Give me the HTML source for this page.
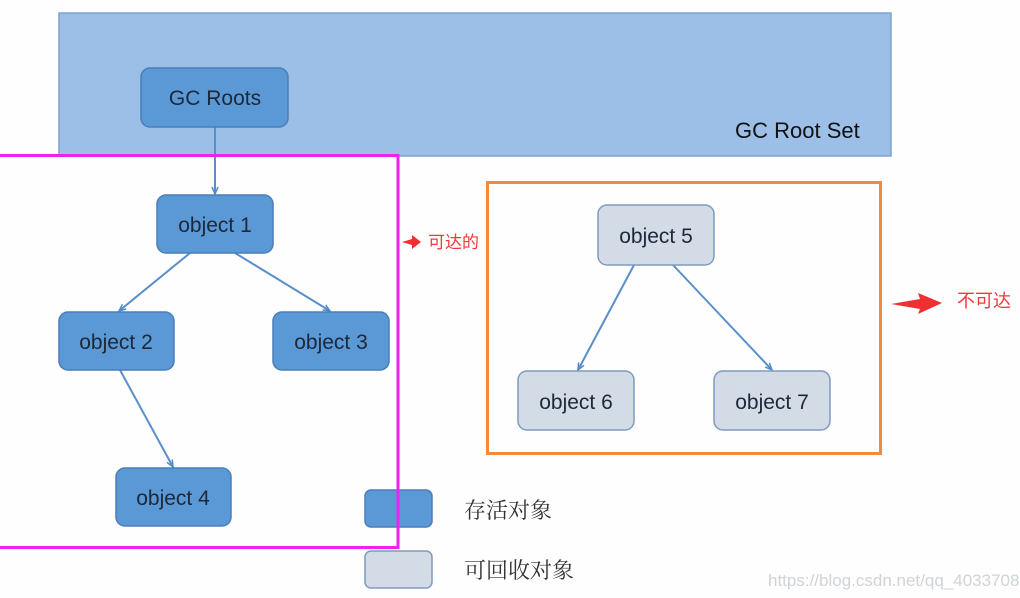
<!DOCTYPE html>
<html><head><meta charset="utf-8"><style>
html,body{margin:0;padding:0;background:#fdfefd;width:1020px;height:598px;overflow:hidden}
svg{display:block}
.t{font-family:"Liberation Sans","DejaVu Sans",sans-serif;font-size:21px;fill:#1d2838}
.cn{font-family:"Liberation Serif","Noto Serif CJK SC",serif;font-size:22px;fill:#333}
.r{font-family:"Liberation Sans","Noto Sans CJK SC",sans-serif;fill:#f03a3a}
</style></head><body>
<svg width="1020" height="598" viewBox="0 0 1020 598" xmlns="http://www.w3.org/2000/svg">
<defs>
<marker id="a" markerWidth="8" markerHeight="8" refX="7" refY="4" orient="auto" markerUnits="userSpaceOnUse">
<path d="M0,1 L7,4 L0,7" fill="none" stroke="#4f8acb" stroke-width="1.5"/></marker>
</defs>
<rect x="59" y="13" width="832" height="143" fill="#9bbfe7" stroke="#7fa3cf" stroke-width="1.5"/>
<text x="735" y="138" class="t" style="font-size:22px;fill:#111">GC Root Set</text>
<g stroke="#5a8fcc" stroke-width="2" fill="none" marker-end="url(#a)">
<line x1="215" y1="127" x2="215" y2="194"/>
<line x1="190" y1="253" x2="119" y2="311"/>
<line x1="235" y1="253" x2="330" y2="311"/>
<line x1="120" y1="370" x2="173" y2="467"/>
<line x1="634" y1="265" x2="578" y2="370"/>
<line x1="673" y1="265" x2="772" y2="370"/>
</g>
<g fill="#5b98d6" stroke="#4a7fb8" stroke-width="1.5">
<rect x="141" y="68" width="147" height="59" rx="9"/>
<rect x="157" y="195" width="116" height="58" rx="9"/>
<rect x="59" y="312" width="115" height="58" rx="9"/>
<rect x="273" y="312" width="116" height="58" rx="9"/>
<rect x="116" y="468" width="115" height="58" rx="9"/>
<rect x="365" y="490" width="67" height="37" rx="6"/>
</g>
<g fill="#d3dbe7" stroke="#7f9bbd" stroke-width="1.5">
<rect x="598" y="205" width="116" height="60" rx="9"/>
<rect x="518" y="371" width="116" height="59" rx="9"/>
<rect x="714" y="371" width="116" height="59" rx="9"/>
<rect x="365" y="551" width="67" height="37" rx="6"/>
</g>
<g class="t" text-anchor="middle">
<text x="215" y="105" class="t">GC Roots</text>
<text x="215" y="232" class="t">object 1</text>
<text x="116" y="349" class="t">object 2</text>
<text x="331" y="349" class="t">object 3</text>
<text x="173" y="505" class="t">object 4</text>
<text x="656" y="243" class="t">object 5</text>
<text x="576" y="409" class="t">object 6</text>
<text x="772" y="409" class="t">object 7</text>
</g>
<rect x="-5" y="155.5" width="403" height="392" fill="none" stroke="#f020f0" stroke-width="3"/>
<rect x="487.5" y="182.5" width="393" height="271" fill="none" stroke="#f5893a" stroke-width="3"/>
<text x="464" y="518" class="cn">存活对象</text>
<text x="464" y="578" class="cn">可回收对象</text>
<path d="M402,242 L412,239 L412,235 L421,242 L412,249 L412,245 Z" fill="#f03030"/>
<text x="428" y="248" class="r" style="font-size:17px">可达的</text>
<path d="M891,304 L920,299 L918,293 L942,303 L918,314 L920,309 Z" fill="#f03030"/>
<text x="957" y="307" class="r" style="font-size:18px">不可达</text>
<text x="768" y="586" style="font-family:'Liberation Sans',sans-serif;font-size:17px;fill:#d0d4d8">https://blog.csdn.net/qq_40337086</text>
</svg>
</body></html>
